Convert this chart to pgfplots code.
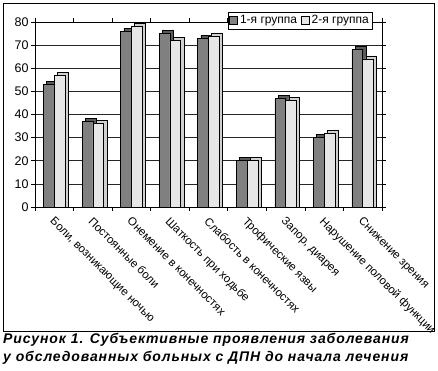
\documentclass[border=0pt]{standalone}
\usepackage{fontspec}
\setmainfont{Liberation Sans}
\usepackage{pgfplots}
\pgfplotsset{compat=1.18}
\definecolor{gA}{HTML}{808080}
\definecolor{gB}{HTML}{E6E6E6}
\definecolor{gAs}{HTML}{5A5A5A}
\definecolor{gBs}{HTML}{D0D0D0}
\begin{document}
\begin{tikzpicture}[x=1pt,y=1pt]
\path (0,0) rectangle (438,371);
\draw[line width=0.9pt] (3,40) rectangle (434,368);
\begin{axis}[at={(35pt,164pt)}, anchor=south west, scale only axis,
  width=347pt, height=185pt,
  ymin=0, ymax=80, ytick={0,10,...,80},
  xmin=-0.5, xmax=8.5,
  ybar=0pt, bar width=10.8pt,
  /pgf/number format/assume math mode=true,
  yticklabel style={font=\fontsize{12.5}{13}\selectfont, xshift=1pt},
  ymajorgrids, grid style={black!85, line width=0.7pt},
  axis line style={black, line width=0.7pt},
  tick align=outside, major tick length=4pt, minor tick length=4pt,
  tick style={black, line width=0.7pt},
  xtick={0,...,8}, major x tick style={draw=none},
  minor xtick={-0.5,0.5,...,8.5},
  xticklabels={{Боли, возникающие ночью}, Постоянные боли, Онемение в конечностях, Шаткость при ходьбе, Слабость в конечностях, Трофические язвы, {Запор, диарея}, Нарушение половой функции, Снижение зрения},
  xticklabel style={rotate=-45, anchor=north west, inner sep=0pt, xshift=4.2pt, yshift=-2.8pt, font=\fontsize{11.5}{13}\selectfont},
  legend columns=2,
  legend style={at={(0.764,1.008)}, anchor=center, draw=black, fill=white, font=\fontsize{12}{13}\selectfont, inner sep=1.5pt, /tikz/every even column/.append style={column sep=2pt}},
  legend image code/.code={\draw[#1, draw=black] (0pt,-3.5pt) rectangle (8pt,4.5pt);},
]
\addplot[fill=gAs, draw=black, line width=0.5pt, bar shift=-2.2pt, forget plot] coordinates {(0,54.3) (1,38.3) (2,77.3) (3,76.3) (4,74.3) (5,21.3) (6,48.3) (7,31.3) (8,69.3)};
\addplot[fill=gBs, draw=black, line width=0.5pt, bar shift=8.6pt, forget plot] coordinates {(0,58.3) (1,37.3) (2,79.3) (3,73.3) (4,75.3) (5,21.3) (6,47.3) (7,33.3) (8,65.3)};
\addplot[fill=gA, draw=black, line width=0.6pt, bar shift=-5.4pt] coordinates {(0,53) (1,37) (2,76) (3,75) (4,73) (5,20) (6,47) (7,30) (8,68)};
\addplot[fill=gB, draw=black, line width=0.6pt, bar shift=5.4pt] coordinates {(0,57) (1,36) (2,78) (3,72) (4,74) (5,20) (6,46) (7,32) (8,64)};
\legend{1-я группа, 2-я группа}
\end{axis}
\node[anchor=base west, inner sep=0pt, font=\fontsize{14}{16}\selectfont\bfseries\itshape\addfontfeatures{LetterSpace=6.5}] at (3,27) {Рисунок 1. Субъективные проявления заболевания};
\node[anchor=base west, inner sep=0pt, font=\fontsize{14}{16}\selectfont\bfseries\itshape\addfontfeatures{LetterSpace=6.5}] at (3,9.5) {у обследованных больных с ДПН до начала лечения};
\end{tikzpicture}
\end{document}
